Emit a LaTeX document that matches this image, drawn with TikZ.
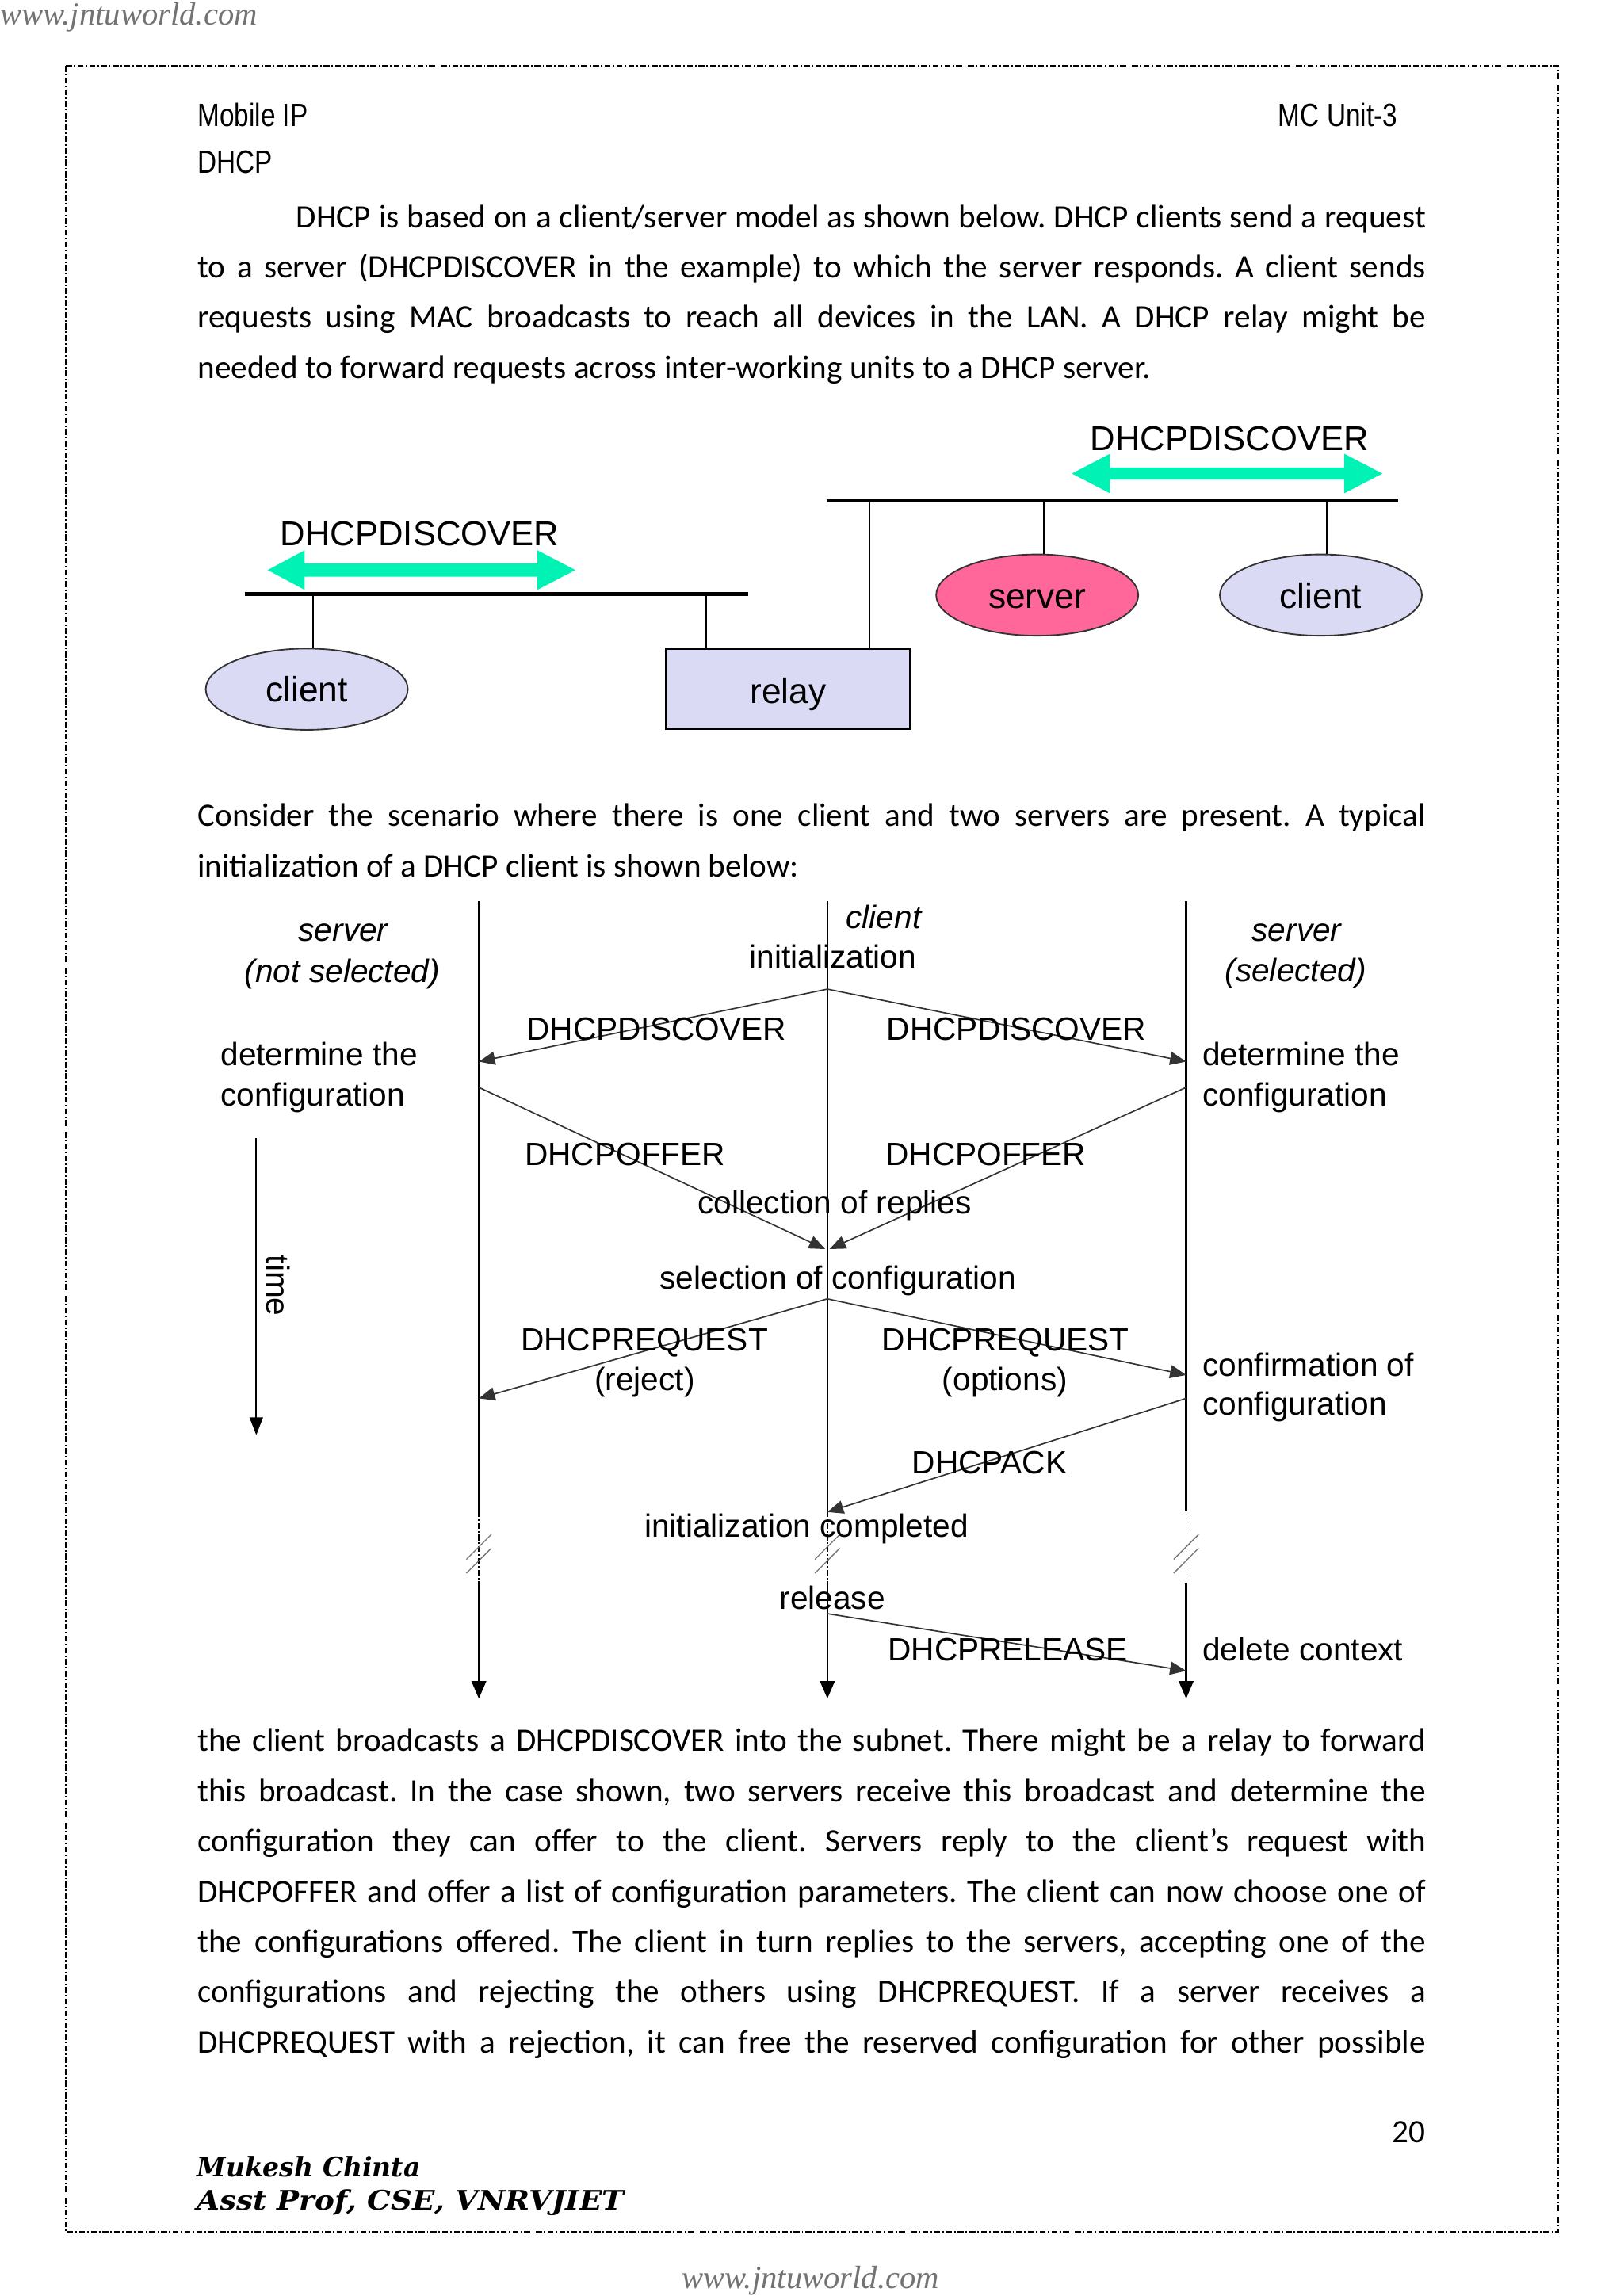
\documentclass[tikz,border=0pt]{standalone}
\usepackage{fontspec}
\setmainfont{Carlito}
\newfontfamily\arialf{Liberation Sans}
\newfontfamily\narrowf[FakeStretch=0.82]{Liberation Sans}
\newfontfamily\wmf{Liberation Serif}
\newfontfamily\sigf{DejaVu Serif}
\usetikzlibrary{arrows.meta,shapes.geometric}
\definecolor{lav}{RGB}{218,218,245}
\definecolor{pinkish}{RGB}{255,102,153}
\definecolor{mint}{RGB}{0,242,180}
\newcommand\myjust[1]{\makebox[838.7pt][s]{#1}}
\frenchspacing
\begin{document}
\begin{tikzpicture}[x=1pt,y=-1pt,
  body/.style={font=\fontsize{22.3}{26}\selectfont, anchor=base west, inner sep=0pt},
  head/.style={font=\narrowf\fontsize{22}{26}\selectfont, inner sep=0pt},
  dg/.style={font=\arialf\fontsize{22}{26}\selectfont, anchor=base, inner sep=0pt},
  dgi/.style={dg, font=\arialf\itshape\fontsize{22}{26}\selectfont},
  dgl/.style={dg, anchor=base west},
  net/.style={font=\arialf\fontsize{24}{28}\selectfont, inner sep=0pt, draw=black!80, line width=1pt, text height=17.5pt, text depth=0pt},
  ell/.style={net, ellipse, minimum width=138pt, minimum height=55.5pt},
  bus/.style={line width=2.7pt},
  stem/.style={line width=1.1pt},
  life/.style={line width=1.3pt},
  lifeend/.style={life, -{Triangle[length=12pt,width=10pt]}},
  msg/.style={-{Triangle[length=11pt,width=9pt]}, line width=0.9pt, black!80},
  brk/.style={line width=0.7pt, black!55},
  wm/.style={font=\wmf\itshape\fontsize{22}{26}\selectfont, text=black!55, inner sep=0pt},
  sig/.style={anchor=base west, inner sep=0pt, font=\sigf\bfseries\itshape\fontsize{18}{22}\selectfont}
]
\useasboundingbox (0,0) rectangle (1108.5,1568);
\fill[white] (0,0) rectangle (1108.5,1568);

% watermarks and border
\node[wm, anchor=base west] (wmtop) at (0,17) {www.jntuworld.com};
\node[wm, anchor=base] (wmbot) at (553.6,1563) {www.jntuworld.com};
\draw[line width=1pt, dash pattern=on 4pt off 1.5pt on 1pt off 1.5pt] (45,45) rectangle (1064,1524);

% header
\node[head, anchor=base west] (hmob) at (134.8,86.2) {Mobile IP};
\node[head, anchor=base east] (hmc) at (954.4,86.2) {MC Unit-3};
\node[head, anchor=base west] (hdhcp) at (134.8,118) {DHCP};

% paragraph 1
\node[body] (p1a) at (202.2,155.6) {\makebox[771.3pt][s]{DHCP is based on a client/server model as shown below. DHCP clients send a request}};
\node[body] (p1b) at (134.8,189.8) {\myjust{to a server (DHCPDISCOVER in the example) to which the server responds. A client sends}};
\node[body] (p1c) at (134.8,224) {\myjust{requests using MAC broadcasts to reach all devices in the LAN. A DHCP relay might be}};
\node[body] (p1d) at (134.8,258.2) {needed to forward requests across inter-working units to a DHCP server.};

% ---------- diagram 1 ----------
\fill[mint] (182.8,389.3) -- (208,375.8) -- (208,384.8) -- (367,384.8) -- (367,375.8) -- (392.9,389.3) -- (367,402.8) -- (367,393.8) -- (208,393.8) -- (208,402.8) -- cycle;
\fill[mint] (732,323.4) -- (758,309.9) -- (758,319.3) -- (918,319.3) -- (918,309.9) -- (944,323.4) -- (918,336.9) -- (918,327.5) -- (758,327.5) -- (758,336.9) -- cycle;
\node[dg, font=\arialf\fontsize{23.6}{28}\selectfont] (dl) at (286.6,372.6) {DHCPDISCOVER};
\node[dg, font=\arialf\fontsize{23.6}{28}\selectfont] (dr) at (839.7,307.6) {DHCPDISCOVER};

\coordinate (bLa) at (167,405.5);
\coordinate (bLb) at (511,405.5);
\coordinate (bRa) at (565,342);
\coordinate (bRb) at (955,342);
\draw[bus] (bLa) -- (bLb);
\draw[bus] (bRa) -- (bRb);

\node[ell, fill=lav] (cl1) at (209.5,470.7) {client};
\node[net, fill=lav, draw=black, line width=1.3pt, minimum width=166.6pt, minimum height=55pt, text height=20pt] (relay) at (538.3,470.5) {relay};
\node[ell, fill=pinkish] (srv) at (708.3,406.4) {server};
\node[ell, fill=lav] (cl2) at (902,406.4) {client};

\coordinate (s1) at (213.8,405.5);
\coordinate (s2) at (482.5,405.5);
\coordinate (s3) at (593.5,342);
\coordinate (s4) at (712.7,342);
\coordinate (s5) at (906.3,342);
\draw[stem] (s1) -- (s1 |- cl1.north);
\draw[stem] (s2) -- (s2 |- relay.north);
\draw[stem] (s3) -- (s3 |- relay.north);
\draw[stem] (s4) -- (s4 |- srv.north);
\draw[stem] (s5) -- (s5 |- cl2.north);

% paragraph 2
\node[body] (p2a) at (134.8,564.5) {\myjust{Consider the scenario where there is one client and two servers are present. A typical}};
\node[body] (p2b) at (134.8,599.1) {initialization of a DHCP client is shown below:};

% ---------- diagram 2 ----------
\coordinate (Lt) at (327,615.4); \coordinate (La) at (327,1032); \coordinate (Lb) at (327,1081); \coordinate (Le) at (327,1160);
\coordinate (Ct) at (565,615.4); \coordinate (Ca) at (565,1032); \coordinate (Cb) at (565,1081); \coordinate (Ce) at (565,1160);
\coordinate (Rt) at (810,615.4); \coordinate (Ra) at (810,1032); \coordinate (Rb) at (810,1081); \coordinate (Re) at (810,1160);
\draw[life] (Lt) -- (La);
\draw[life] (Ct) -- (Ca);
\draw[life] (Rt) -- (Ra);
\draw[line width=1pt, dash pattern=on 4pt off 1.5pt on 1pt off 1.5pt] (La) -- (Lb);
\draw[line width=1pt, dash pattern=on 4pt off 1.5pt on 1pt off 1.5pt] (Ca) -- (Cb);
\draw[line width=1pt, dash pattern=on 4pt off 1.5pt on 1pt off 1.5pt] (Ra) -- (Rb);
\draw[lifeend] (Lb) -- (Le);
\draw[lifeend] (Cb) -- (Ce);
\draw[lifeend] (Rb) -- (Re);
\foreach \x in {327,565,810}{
  \draw[brk] (\x-8.5,1064.9) -- (\x+8.5,1047.9);
  \draw[brk] (\x-8.5,1074.4) -- (\x+8.5,1057.3);
}

\node[dgi] (tsl1) at (234.4,642.8) {server};
\node[dgi] (tsl2) at (233.8,670.7) {(not selected)};
\node[dgi] (tcl) at (603.5,634) {client};
\node[dg] (tini) at (568.8,661) {initialization};
\node[dgi] (tsr1) at (885.5,642.8) {server};
\node[dgi] (tsr2) at (884.8,670.6) {(selected)};

\coordinate (d0) at (565,675.5); \coordinate (dL) at (327,725); \coordinate (dR) at (810,725);
\coordinate (oL) at (327,742.6); \coordinate (oR) at (810,742.6);
\coordinate (oCL) at (563.5,853); \coordinate (oCR) at (566.5,853);
\coordinate (q0) at (565,887); \coordinate (qL) at (327,955); \coordinate (qR) at (810,939);
\coordinate (a0) at (810,955); \coordinate (aC) at (565,1032.6);
\coordinate (r0) at (565,1102); \coordinate (rR) at (810,1141);

\draw[msg] (d0) -- (dL);
\draw[msg] (d0) -- (dR);
\draw[msg] (oL) -- (oCL);
\draw[msg] (oR) -- (oCR);
\draw[msg] (q0) -- (qL);
\draw[msg] (q0) -- (qR);
\draw[msg] (a0) -- (aC);
\draw[msg] (r0) -- (rR);

\node[dg] (mdl) at (448.2,710.6) {DHCPDISCOVER};
\node[dg] (mdr) at (694.1,710.6) {DHCPDISCOVER};
\node[dgl] (detl1) at (150.5,727.5) {determine the};
\node[dgl] (detl2) at (150.5,755.5) {configuration};
\node[dgl] (detr1) at (821,727.5) {determine the};
\node[dgl] (detr2) at (821,755.5) {configuration};
\node[dg] (mol) at (426.9,796) {DHCPOFFER};
\node[dg] (mor) at (673.2,796) {DHCPOFFER};
\node[dg] (tcol) at (569.9,829) {collection of replies};
\node[dg] (tsel) at (572.3,880.5) {selection of configuration};
\node[dg] (mql) at (440.1,922.6) {DHCPREQUEST};
\node[dg] (mqlr) at (440.3,949.5) {(reject)};
\node[dg] (mqr) at (686.7,922.6) {DHCPREQUEST};
\node[dg] (mqro) at (686.3,949.5) {(options)};
\node[dgl] (conf1) at (821,939.6) {confirmation of};
\node[dgl] (conf2) at (821,966.2) {configuration};
\node[dg] (mack) at (675.8,1006.6) {DHCPACK};
\node[dg] (tcomp) at (550.8,1049.7) {initialization completed};
\node[dg] (trel) at (568.4,1099.1) {release};
\node[dg] (mrel) at (688.3,1134.2) {DHCPRELEASE};
\node[dgl] (tdel) at (821,1134.2) {delete context};

\coordinate (t0) at (175,777);
\coordinate (t1) at (175,980);
\draw[life, line width=1.2pt, -{Triangle[length=12pt,width=9pt]}] (t0) -- (t1);
\node[dg, anchor=center, rotate=-90] (ttime) at (190,878) {time};

% paragraph 3
\node[body] (p3a) at (134.8,1196.1) {\myjust{the client broadcasts a DHCPDISCOVER into the subnet. There might be a relay to forward}};
\node[body] (p3b) at (134.8,1230.5) {\myjust{this broadcast. In the case shown, two servers receive this broadcast and determine the}};
\node[body] (p3c) at (134.8,1264.7) {\myjust{configuration they can offer to the client. Servers reply to the client’s request with}};
\node[body] (p3d) at (134.8,1299.2) {\myjust{DHCPOFFER and offer a list of configuration parameters. The client can now choose one of}};
\node[body] (p3e) at (134.8,1333.3) {\myjust{the configurations offered. The client in turn replies to the servers, accepting one of the}};
\node[body] (p3f) at (134.8,1367.5) {\myjust{configurations and rejecting the others using DHCPREQUEST. If a server receives a}};
\node[body] (p3g) at (134.8,1401.9) {\myjust{DHCPREQUEST with a rejection, it can free the reserved configuration for other possible}};

% footer
\node[body, anchor=base east] (pnum) at (973.7,1463.3) {20};
\node[sig] (sig1) at (134.3,1486.6) {\resizebox{152.7pt}{14pt}{Mukesh Chinta}};
\node[sig] (sig2) at (134.3,1509.4) {\resizebox{291.7pt}{14pt}{Asst Prof, CSE, VNRVJIET}};
\end{tikzpicture}
\end{document}
